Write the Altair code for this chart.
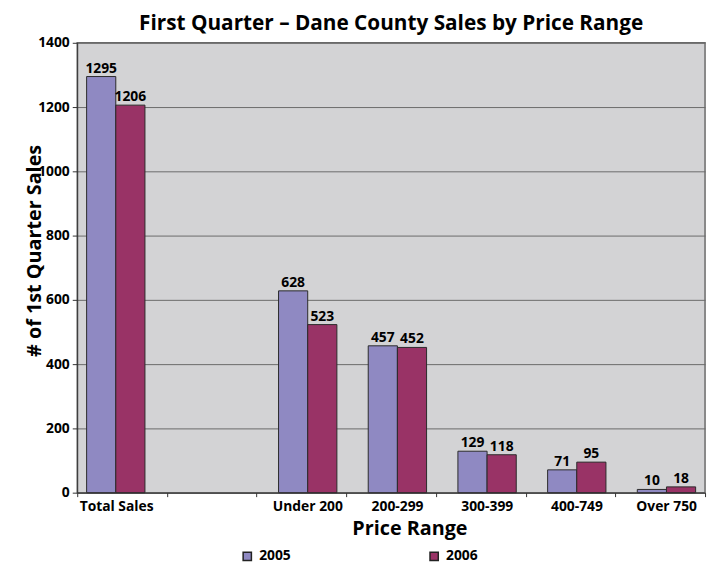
import altair as alt
import pandas as pd

categories = ["Total Sales", " ", "Under 200", "200-299", "300-399", "400-749", "Over 750"]
data_categories = ["Total Sales", "Under 200", "200-299", "300-399", "400-749", "Over 750"]
sales_2005 = [1295, 628, 457, 129, 71, 10]
sales_2006 = [1206, 523, 452, 118, 95, 18]
years = ["2005", "2006"]
colors = ["#8f89c2", "#993366"]

rows = []
for c, a, b in zip(data_categories, sales_2005, sales_2006):
    rows.append({"range": c, "year": "2005", "sales": a})
    rows.append({"range": c, "year": "2006", "sales": b})
df = pd.DataFrame(rows)

FONT = "Open Sans"

x_enc = alt.X(
    "range:N",
    scale=alt.Scale(domain=categories, paddingInner=0, paddingOuter=0),
    sort=categories,
    axis=alt.Axis(
        title="Price Range",
        labelAngle=0,
        tickBand="extent",
        tickSize=4,
        tickColor="#333333",
        domainColor="#333333",
        labelFont=FONT, labelFontWeight="bold", labelFontSize=14, labelColor="#000000",
        labelPadding=3,
        labelOffset={"condition": {"test": "datum.value == 'Total Sales'", "value": -6}, "value": 6},
        titleFont=FONT, titleFontWeight="bold", titleFontSize=20, titleColor="#000000",
        titleX=336, titleY=42, titleBaseline="alphabetic", titleAlign="center",
        grid=False,
    ),
)
y_enc = alt.Y(
    "sales:Q",
    scale=alt.Scale(domain=[0, 1400]),
    axis=alt.Axis(
        title="# of 1st Quarter Sales",
        values=[0, 200, 400, 600, 800, 1000, 1200, 1400],
        format="d",
        tickSize=5, tickColor="#333333", domainColor="#333333",
        labelFont=FONT, labelFontWeight="bold", labelFontSize=14, labelColor="#000000",
        labelPadding=3,
        titleFont=FONT, titleFontWeight="bold", titleFontSize=20, titleColor="#000000",
        titleX=-37, titleY=210, titleBaseline="alphabetic", titleAlign="center",
        grid=True, gridColor="#6a6a6a", gridWidth=1,
    ),
)
color_enc = alt.Color(
    "year:N",
    scale=alt.Scale(domain=years, range=colors),
    legend=alt.Legend(
        title=None, orient="none", legendX=165, legendY=512,
        direction="horizontal", columns=2, columnPadding=136,
        symbolType="square", symbolSize=70, symbolStrokeColor="#222222", symbolStrokeWidth=1.5,
        labelFont=FONT, labelFontWeight="bold", labelFontSize=14, labelColor="#000000",
        padding=0, labelOffset=5,
    ),
)

base = alt.Chart(df)


def xoff(align):
    return alt.XOffset(
        "year:N",
        scale=alt.Scale(type="band", domain=years, paddingInner=0, paddingOuter=0.5375, align=align),
    )


ts = alt.datum.range == "Total Sales"
others = alt.datum.range != "Total Sales"

label_style = dict(dy=-8, font=FONT, fontWeight="bold", fontSize=14, color="#000000")

bars_ts = base.transform_filter(ts).mark_bar(stroke="#2b2b2b", strokeWidth=1).encode(
    x=x_enc, y=y_enc, color=color_enc, xOffset=xoff(0.3))
text_ts = base.transform_filter(ts).mark_text(**label_style).encode(
    x=x_enc, y=y_enc, text="sales:Q", xOffset=xoff(0.3))
bars_o = base.transform_filter(others).mark_bar(stroke="#2b2b2b", strokeWidth=1).encode(
    x=x_enc, y=y_enc, color=color_enc, xOffset=xoff(0.7))
text_o = base.transform_filter(others).mark_text(**label_style).encode(
    x=x_enc, y=y_enc, text="sales:Q", xOffset=xoff(0.7))

chart = alt.layer(bars_ts, text_ts, bars_o, text_o).resolve_scale(
    xOffset="independent"
).properties(
    width=635,
    height=455,
    autosize=alt.AutoSizeParams(type="none"),
    padding={"left": 70, "top": 32, "right": 4, "bottom": 73},
    background="#ffffff",
    title=alt.TitleParams(
        "First Quarter – Dane County Sales by Price Range",
        font=FONT, fontWeight="bold", fontSize=21, color="#000000",
        anchor="middle", baseline="bottom", offset=4, dy=23,
    ),
).configure_view(
    fill="#d3d3d5", stroke="#6a6a6a", strokeWidth=1.5
)

chart.save("out.html", embed_options={"renderer": "svg", "actions": False})
